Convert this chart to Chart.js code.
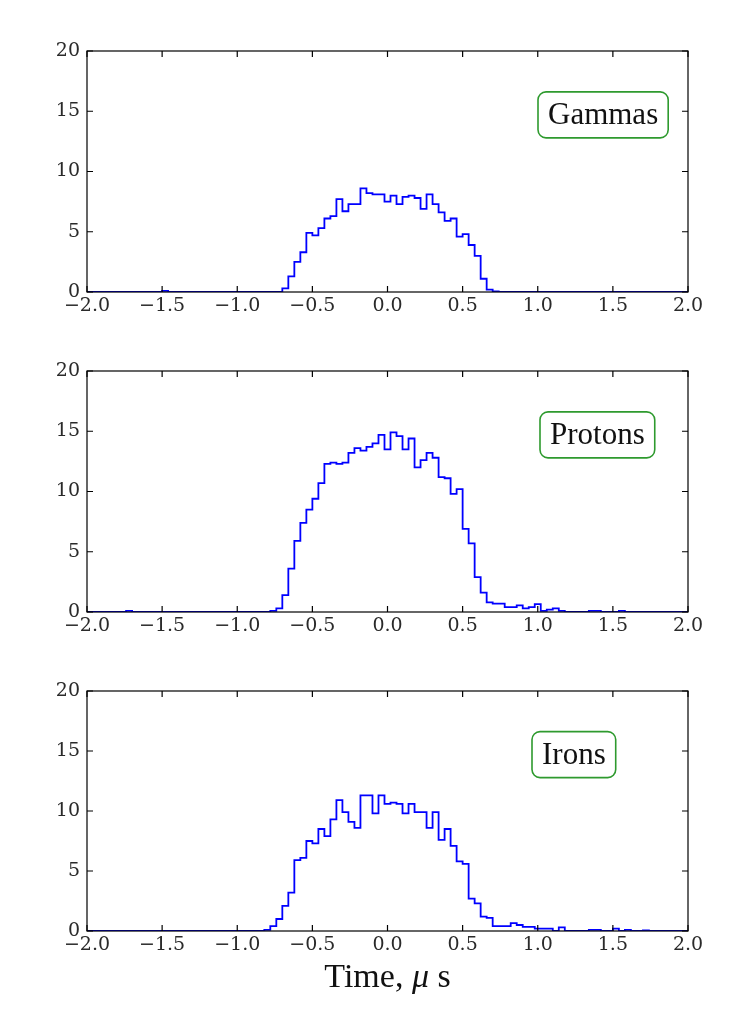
<!DOCTYPE html>
<html lang="en">
<head>
<meta charset="UTF-8">
<title>Arrival time histograms</title>
<script src="https://cdn.jsdelivr.net/npm/chart.js"></script>
<style>
  body { margin: 0; background: #fff; }
  canvas { position: absolute; left: 0; }
</style>
</head>
<body>
<canvas id="gammaChart" width="743" height="320" style="top:0"></canvas>
<canvas id="protonChart" width="743" height="320" style="top:320px"></canvas>
<canvas id="ironChart" width="743" height="384" style="top:640px"></canvas>

<script>
// histogram: 101 bins of width 0.04, centred on -2.00, -1.96, ... 2.00
const binStart = -2.0;
const binWidth = 0.04;

const xTicks = [-2.0, -1.5, -1.0, -0.5, 0.0, 0.5, 1.0, 1.5, 2.0];
const yTicks = [0, 5, 10, 15, 20];

const gammas = [
  0, 0, 0, 0, 0, 0, 0, 0, 0, 0, 0, 0, 0, 0.1, 0, 0, 0, 0, 0, 0,
  0, 0, 0, 0, 0, 0, 0, 0, 0, 0, 0, 0, 0, 0.3, 1.3, 2.5, 3.3, 4.9, 4.7, 5.3,
  6.1, 6.3, 7.7, 6.7, 7.3, 7.3, 8.6, 8.2, 8.1, 8.1, 7.5, 8.0, 7.3, 7.9, 8.0, 7.8, 6.9, 8.1, 7.3, 6.6,
  5.9, 6.1, 4.6, 4.8, 3.9, 3.0, 1.1, 0.2, 0.05, 0, 0, 0, 0, 0, 0, 0, 0, 0, 0, 0,
  0, 0, 0, 0, 0, 0, 0, 0, 0, 0, 0, 0, 0, 0, 0, 0, 0, 0, 0, 0,
  0
];

const protons = [
  0, 0, 0, 0, 0, 0, 0, 0.1, 0, 0, 0, 0, 0, 0, 0, 0, 0, 0, 0, 0,
  0, 0, 0, 0, 0, 0, 0, 0, 0, 0, 0, 0.1, 0.3, 1.4, 3.6, 5.9, 7.4, 8.5, 9.4, 10.7,
  12.3, 12.4, 12.3, 12.4, 13.2, 13.6, 13.4, 13.7, 14.0, 14.7, 13.5, 14.9, 14.6, 13.5, 14.4, 12.0, 12.6, 13.2, 12.8, 11.2,
  11.1, 9.8, 10.2, 6.9, 5.7, 2.9, 1.6, 0.8, 0.7, 0.7, 0.4, 0.4, 0.55, 0.3, 0.4, 0.65, 0.1, 0.2, 0.3, 0.1,
  0, 0, 0, 0, 0.1, 0.1, 0, 0, 0, 0.1, 0, 0, 0, 0, 0, 0, 0, 0, 0, 0,
  0
];

const irons = [
  0, 0, 0, 0, 0, 0, 0, 0, 0, 0, 0, 0, 0, 0, 0, 0, 0, 0, 0, 0,
  0, 0, 0, 0, 0, 0, 0, 0, 0, 0, 0.1, 0.4, 1.0, 2.1, 3.2, 5.9, 6.1, 7.5, 7.3, 8.5,
  7.9, 9.3, 10.9, 9.9, 9.1, 8.6, 11.3, 11.3, 9.8, 11.3, 10.6, 10.7, 10.6, 9.8, 10.6, 9.9, 9.9, 8.6, 9.9, 7.6,
  8.5, 7.1, 5.8, 5.6, 2.7, 2.3, 1.2, 1.1, 0.4, 0.4, 0.4, 0.65, 0.5, 0.35, 0.35, 0.2, 0.2, 0.2, 0, 0.3,
  0, 0, 0, 0, 0.1, 0.1, 0, 0, 0.2, 0, 0.1, 0, 0, 0.05, 0, 0, 0, 0, 0, 0,
  0
];

const panelNames = ['Gammas', 'Protons', 'Irons'];
// x axis title, drawn in pieces so the mu can be italic
const axisTitleParts = [['Time, ', ''], ['\u03bc', 'italic '], [' s', '']];

const tickFont = { family: 'DejaVu Serif', size: 19 };
const tickColor = '#2a2a2a';

// frame, inward ticks on all four sides, the framed particle label, axis title
const frameAndLabel = {
  id: 'frameAndLabel',
  afterDatasetsDraw(chart, args, opts) {
    const { ctx, chartArea: a, scales: { x, y } } = chart;
    ctx.save();
    ctx.strokeStyle = '#000';
    ctx.lineWidth = 1.2;
    ctx.strokeRect(a.left, a.top, a.right - a.left, a.bottom - a.top);

    const len = 6;
    ctx.beginPath();
    xTicks.forEach(v => {
      const px = x.getPixelForValue(v);
      ctx.moveTo(px, a.bottom); ctx.lineTo(px, a.bottom - len);
      ctx.moveTo(px, a.top); ctx.lineTo(px, a.top + len);
    });
    yTicks.forEach(v => {
      const py = y.getPixelForValue(v);
      ctx.moveTo(a.left, py); ctx.lineTo(a.left + len, py);
      ctx.moveTo(a.right, py); ctx.lineTo(a.right - len, py);
    });
    ctx.stroke();

    // label box
    ctx.font = '31px "Liberation Serif"';
    const w = ctx.measureText(opts.text).width;
    const bx = opts.left, bw = w + 20, bh = 46;
    const cy = y.getPixelForValue(14.7);
    ctx.beginPath();
    ctx.roundRect(bx, cy - bh / 2, bw, bh, 8);
    ctx.strokeStyle = '#2e9a2e';
    ctx.lineWidth = 1.6;
    ctx.stroke();
    ctx.fillStyle = '#111';
    ctx.textBaseline = 'middle';
    ctx.fillText(opts.text, bx + 10, cy + 1);

    if (opts.title) {
      const fontOf = style => style + '34px "Liberation Serif"';
      let total = 0;
      axisTitleParts.forEach(([t, s]) => { ctx.font = fontOf(s); total += ctx.measureText(t).width; });
      let tx = (a.left + a.right) / 2 - total / 2;
      const ty = a.bottom + 47;
      axisTitleParts.forEach(([t, s]) => {
        ctx.font = fontOf(s);
        ctx.fillText(t, tx, ty);
        tx += ctx.measureText(t).width;
      });
    }
    ctx.restore();
  }
};

function makePanel(id, name, values, labelLeft, last) {
  const points = values.map((v, i) => ({ x: binStart + i * binWidth, y: v }));
  return new Chart(document.getElementById(id), {
    type: 'line',
    data: {
      datasets: [{
        label: name,
        data: points,
        stepped: 'middle',
        borderColor: '#0000ff',
        borderWidth: 1.8,
        pointRadius: 0,
        fill: false
      }]
    },
    options: {
      responsive: false,
      animation: false,
      layout: { padding: { top: 51, right: 55, left: 0, bottom: 0 } },
      plugins: {
        legend: { display: false },
        tooltip: { enabled: false },
        frameAndLabel: { text: name, left: labelLeft, title: last }
      },
      scales: {
        x: {
          type: 'linear',
          min: -2,
          max: 2,
          grid: { display: false, drawTicks: false },
          border: { display: false },
          ticks: {
            stepSize: 0.5,
            autoSkip: false,
            maxRotation: 0,
            padding: 3,
            font: tickFont,
            color: tickColor,
            callback: v => (v < 0 ? '\u2212' : '') + Math.abs(v).toFixed(1)
          },
          afterFit: s => { s.height = last ? 93 : 28; }
        },
        y: {
          min: 0,
          max: 20,
          grid: { display: false, drawTicks: false },
          border: { display: false },
          ticks: {
            stepSize: 5,
            padding: 7,
            font: tickFont,
            color: tickColor
          },
          afterFit: s => { s.width = 87; }
        }
      }
    },
    plugins: [frameAndLabel]
  });
}

makePanel('gammaChart', panelNames[0], gammas, 538, false);
makePanel('protonChart', panelNames[1], protons, 540, false);
makePanel('ironChart', panelNames[2], irons, 532, true);
</script>
</body>
</html>
